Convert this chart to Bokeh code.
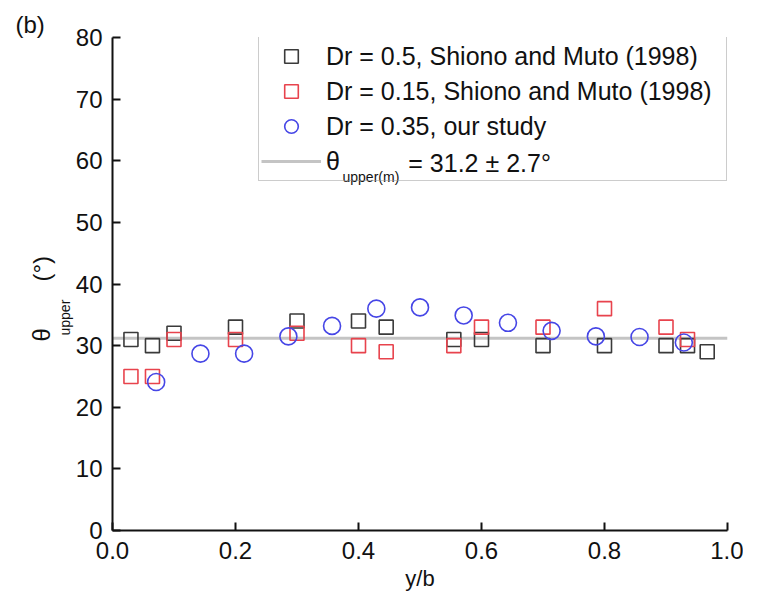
from bokeh.plotting import figure
from bokeh.models import Range1d, FixedTicker, NumeralTickFormatter, Legend, LegendItem, Title
from bokeh.core.properties import value
from bokeh.embed import file_html
from bokeh.resources import INLINE

# ---- data ----
shiono_x_05 = [0.03, 0.065, 0.1, 0.2, 0.3, 0.4, 0.445, 0.555, 0.6, 0.7, 0.8, 0.9, 0.935, 0.967]
shiono_y_05 = [31, 30, 32, 33, 34, 34, 33, 31, 31, 30, 30, 30, 30, 29]
shiono_x_015 = [0.03, 0.065, 0.1, 0.2, 0.3, 0.4, 0.445, 0.555, 0.6, 0.7, 0.8, 0.9, 0.935]
shiono_y_015 = [25, 25, 31, 31, 32, 30, 29, 30, 33, 33, 36, 33, 31]
study_x_035 = [0.071, 0.143, 0.214, 0.286, 0.357, 0.429, 0.5, 0.571, 0.643, 0.714, 0.786, 0.857, 0.929]
study_y_035 = [24.1, 28.7, 28.7, 31.5, 33.2, 36.0, 36.2, 34.9, 33.7, 32.4, 31.5, 31.4, 30.5]
mean_theta = 31.2
mean_x = [0.0, 1.0]
x_ticks = [0.0, 0.2, 0.4, 0.6, 0.8, 1.0]
y_ticks = [0, 10, 20, 30, 40, 50, 60, 70, 80]

labels = ["Dr = 0.5, Shiono and Muto (1998)",
          "Dr = 0.15, Shiono and Muto (1998)",
          "Dr = 0.35, our study"]
mean_label_sub = "upper(m)"
mean_label_rest = "= 31.2 ± 2.7°"

FONT = "Liberation Sans"
NB = "\u00a0"

p = figure(width=743, height=598, output_backend="svg", toolbar_location=None,
           x_range=Range1d(0, 1.0), y_range=Range1d(0, 80),
           min_border_left=112, min_border_right=16, min_border_top=37, min_border_bottom=68)
p.outline_line_color = None
p.xgrid.visible = False
p.ygrid.visible = False
p.background_fill_color = "white"

for ax in (p.xaxis[0], p.yaxis[0]):
    ax.axis_line_width = 2
    ax.axis_line_color = "#111111"
    ax.major_tick_line_width = 2
    ax.major_tick_line_color = "#111111"
    ax.major_tick_in = 8
    ax.major_tick_out = 0
    ax.minor_tick_in = 0
    ax.minor_tick_out = 0
    ax.major_label_text_font = FONT
    ax.major_label_text_font_size = "24px"
    ax.major_label_text_color = "#111111"

p.xaxis.ticker = FixedTicker(ticks=x_ticks)
p.yaxis.ticker = FixedTicker(ticks=y_ticks)
p.xaxis.formatter = NumeralTickFormatter(format="0.0")
p.yaxis.formatter = NumeralTickFormatter(format="0")
p.xaxis.major_label_standoff = 11
p.yaxis.major_label_standoff = 10
p.xaxis.axis_label = "y/b"
p.xaxis.axis_label_text_font = FONT
p.xaxis.axis_label_text_font_size = "22px"
p.xaxis.axis_label_text_font_style = "normal"
p.xaxis.axis_label_text_color = "#111111"
p.xaxis.axis_label_standoff = 4

# panel tag "(b)" as the plot title, pushed to the left edge
p.title.text = "(b)"
p.title.align = "left"
p.title.offset = -97
p.title.standoff = 0
p.title.text_font = FONT
p.title.text_font_size = "24px"
p.title.text_font_style = "normal"
p.title.text_color = "#111111"

# y-axis label: theta_upper (deg), built from stacked side titles
t_upper = Title(text="upper", align="left", offset=195, standoff=0,
                text_font=FONT, text_font_size="14px", text_font_style="normal",
                text_color="#111111")
p.add_layout(t_upper, "left")
t_theta = Title(text="θ" + NB * 7 + "(°)", align="left", offset=189, standoff=0,
                text_font=FONT, text_font_size="24px", text_font_style="normal",
                text_color="#111111")
p.add_layout(t_theta, "left")

r_line = p.line(mean_x, [mean_theta, mean_theta], line_color="#c4c4c4", line_width=3)
r_black = p.scatter(shiono_x_05, shiono_y_05, marker="square", size=14, fill_color=None,
                    line_color="#3a3a3a", line_width=1.6)
r_red = p.scatter(shiono_x_015, shiono_y_015, marker="square", size=14, fill_color=None,
                  line_color="#e8434d", line_width=1.6)
r_blue = p.scatter(study_x_035, study_y_035, marker="circle", size=17, fill_color=None,
                   line_color="#4646e6", line_width=1.6)

# rest of the last legend entry, as text glyphs inside the (transparent) legend box
p.text(x=[0.374], y=[57.3], text=[mean_label_sub], text_font=value(FONT),
       text_font_size="14px", text_color="#111111", text_align="left", text_baseline="middle")
p.text(x=[0.481], y=[59.7], text=[mean_label_rest], text_font=value(FONT),
       text_font_size="25px", text_color="#111111", text_align="left", text_baseline="middle")

legend = Legend(items=[LegendItem(label=labels[0], renderers=[r_black]),
                       LegendItem(label=labels[1], renderers=[r_red]),
                       LegendItem(label=labels[2], renderers=[r_blue]),
                       LegendItem(label="θ", renderers=[r_line])],
                location=(146, 349))
legend.padding = 2
legend.spacing = 1
legend.margin = 0
legend.glyph_width = 60
legend.glyph_height = 34
legend.label_height = 34
legend.label_width = 398
legend.label_standoff = 5
legend.label_text_font = FONT
legend.label_text_font_size = "25px"
legend.label_text_color = "#111111"
legend.border_line_color = "#999999"
legend.border_line_width = 1.5
legend.background_fill_alpha = 0.0
p.add_layout(legend)

open("out.html", "w").write(file_html(p, INLINE))
